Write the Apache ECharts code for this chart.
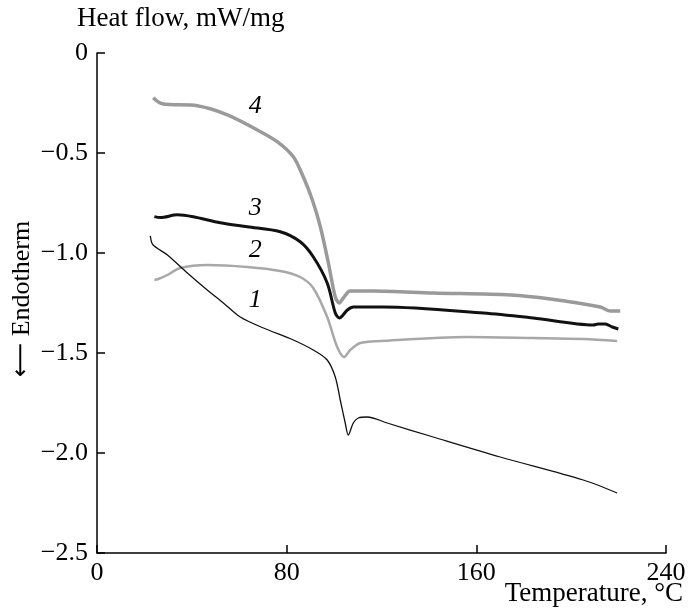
<!DOCTYPE html>
<html>
<head>
<meta charset="utf-8">
<script src="https://cdn.jsdelivr.net/npm/echarts@6/dist/echarts.min.js"></script>
<style>html,body{margin:0;padding:0;background:#fff}#c{width:689px;height:612px}</style>
</head>
<body>
<div id="c"></div>
<script>
// Data (Temperature °C, Heat flow mW/mg)
const curve1 = [[22.5,-0.914],[23.6,-0.959],[29.7,-1.010],[38.1,-1.100],[46.5,-1.185],[53.3,-1.250],[60.4,-1.320],[70.2,-1.375],[82.8,-1.435],[91.2,-1.485],[97.1,-1.535],[100.5,-1.620],[102.6,-1.735],[104.7,-1.850],[106.0,-1.910],[108.1,-1.850],[110.2,-1.825],[114.0,-1.820],[122.4,-1.850],[141.8,-1.920],[170.1,-2.020],[205.1,-2.135],[219.4,-2.200]];
const curve2 = [[24.2,-1.135],[25.9,-1.130],[29.7,-1.110],[35.1,-1.075],[46.5,-1.060],[63.4,-1.070],[77.3,-1.090],[85.7,-1.120],[91.2,-1.175],[97.1,-1.320],[101.3,-1.470],[104.3,-1.520],[106.8,-1.485],[111.0,-1.450],[119.4,-1.440],[156.1,-1.420],[184.0,-1.425],[205.1,-1.430],[219.4,-1.440]];
const curve3 = [[24.2,-0.818],[26.7,-0.823],[33.9,-0.809],[40.6,-0.819],[52.0,-0.849],[63.4,-0.869],[77.3,-0.894],[85.7,-0.944],[91.2,-1.019],[97.1,-1.150],[100.5,-1.300],[102.2,-1.325],[105.6,-1.285],[108.1,-1.270],[120.8,-1.270],[163.0,-1.300],[184.0,-1.325],[209.3,-1.360],[211.4,-1.355],[214.4,-1.355],[217.3,-1.370],[219.9,-1.380]];
const curve4 = [[23.7,-0.224],[27.5,-0.254],[42.3,-0.264],[55.0,-0.309],[65.9,-0.374],[76.1,-0.444],[82.8,-0.519],[87.0,-0.619],[90.8,-0.734],[94.2,-0.869],[97.6,-1.050],[100.5,-1.220],[102.2,-1.250],[103.9,-1.225],[106.8,-1.190],[116.5,-1.190],[141.8,-1.200],[174.3,-1.210],[191.2,-1.230],[212.3,-1.270],[216.5,-1.290],[220.7,-1.290]];
const curveLabels = [[66.8,-0.264,'4'],[66.8,-0.774,'3'],[66.8,-0.985,'2'],[66.8,-1.238,'1']];
const xTicks = {min:0, max:240, interval:80};
const yTicks = {min:-2.5, max:0, interval:0.5};

const FONT = '"Liberation Serif","Times New Roman",serif';
const FS = 26;
const chart = echarts.init(document.getElementById('c'), null, {renderer:'canvas'});
const lineSeries = (data, color, width) => ({
  type:'line', data, smooth:0.3, showSymbol:false, symbol:'none',
  lineStyle:{color, width}, silent:true, z:2
});
chart.setOption({
  animation:false,
  backgroundColor:'#fff',
  grid:{left:97, right:23, top:53, bottom:59, containLabel:false, outerBoundsMode:'none'},
  xAxis:{
    type:'value', min:xTicks.min, max:xTicks.max, interval:xTicks.interval,
    axisLine:{show:true, onZero:false, lineStyle:{color:'#000', width:1.5}},
    axisTick:{show:true, inside:true, length:8, lineStyle:{color:'#000', width:1.5}},
    axisLabel:{fontFamily:FONT, fontSize:FS, color:'#000', margin:7},
    splitLine:{show:false}
  },
  yAxis:{
    type:'value', min:yTicks.min, max:yTicks.max, interval:yTicks.interval,
    axisLine:{show:true, onZero:false, lineStyle:{color:'#000', width:1.5}},
    axisTick:{show:true, inside:true, length:8, lineStyle:{color:'#000', width:1.5}},
    axisLabel:{fontFamily:FONT, fontSize:FS, color:'#000', margin:9,
      formatter:v => v === 0 ? '0' : '\u2212' + Math.abs(v).toFixed(1)},
    splitLine:{show:false}
  },
  graphic:[
    {type:'text', left:77, top:5, style:{text:'Heat flow, mW/mg', font:'27px ' + FONT, fill:'#000'}},
    {type:'text', right:6, top:580, style:{text:'Temperature, °C', font:'27px ' + FONT, fill:'#000'}},
    {type:'text', x:22, y:299, rotation:Math.PI/2,
      style:{text:'{a|\u27F5} Endotherm', font:FS + 'px ' + FONT, fill:'#000', align:'center', verticalAlign:'middle',
        rich:{a:{fontFamily:'"DejaVu Sans"', fontSize:24, fill:'#000'}}}}
  ],
  series:[
    lineSeries(curve4, '#9a9a9a', 3.5),
    lineSeries(curve3, '#111', 3),
    lineSeries(curve2, '#a8a8a8', 2.5),
    lineSeries(curve1, '#111', 1.3),
    {type:'scatter', data:curveLabels, symbolSize:0, silent:true, itemStyle:{opacity:1, color:'#000'},
      label:{show:true, position:'inside', formatter:p => p.data[2], opacity:1,
        fontFamily:FONT, fontSize:FS, fontStyle:'italic', color:'#000'}}
  ]
});
</script>
</body>
</html>
